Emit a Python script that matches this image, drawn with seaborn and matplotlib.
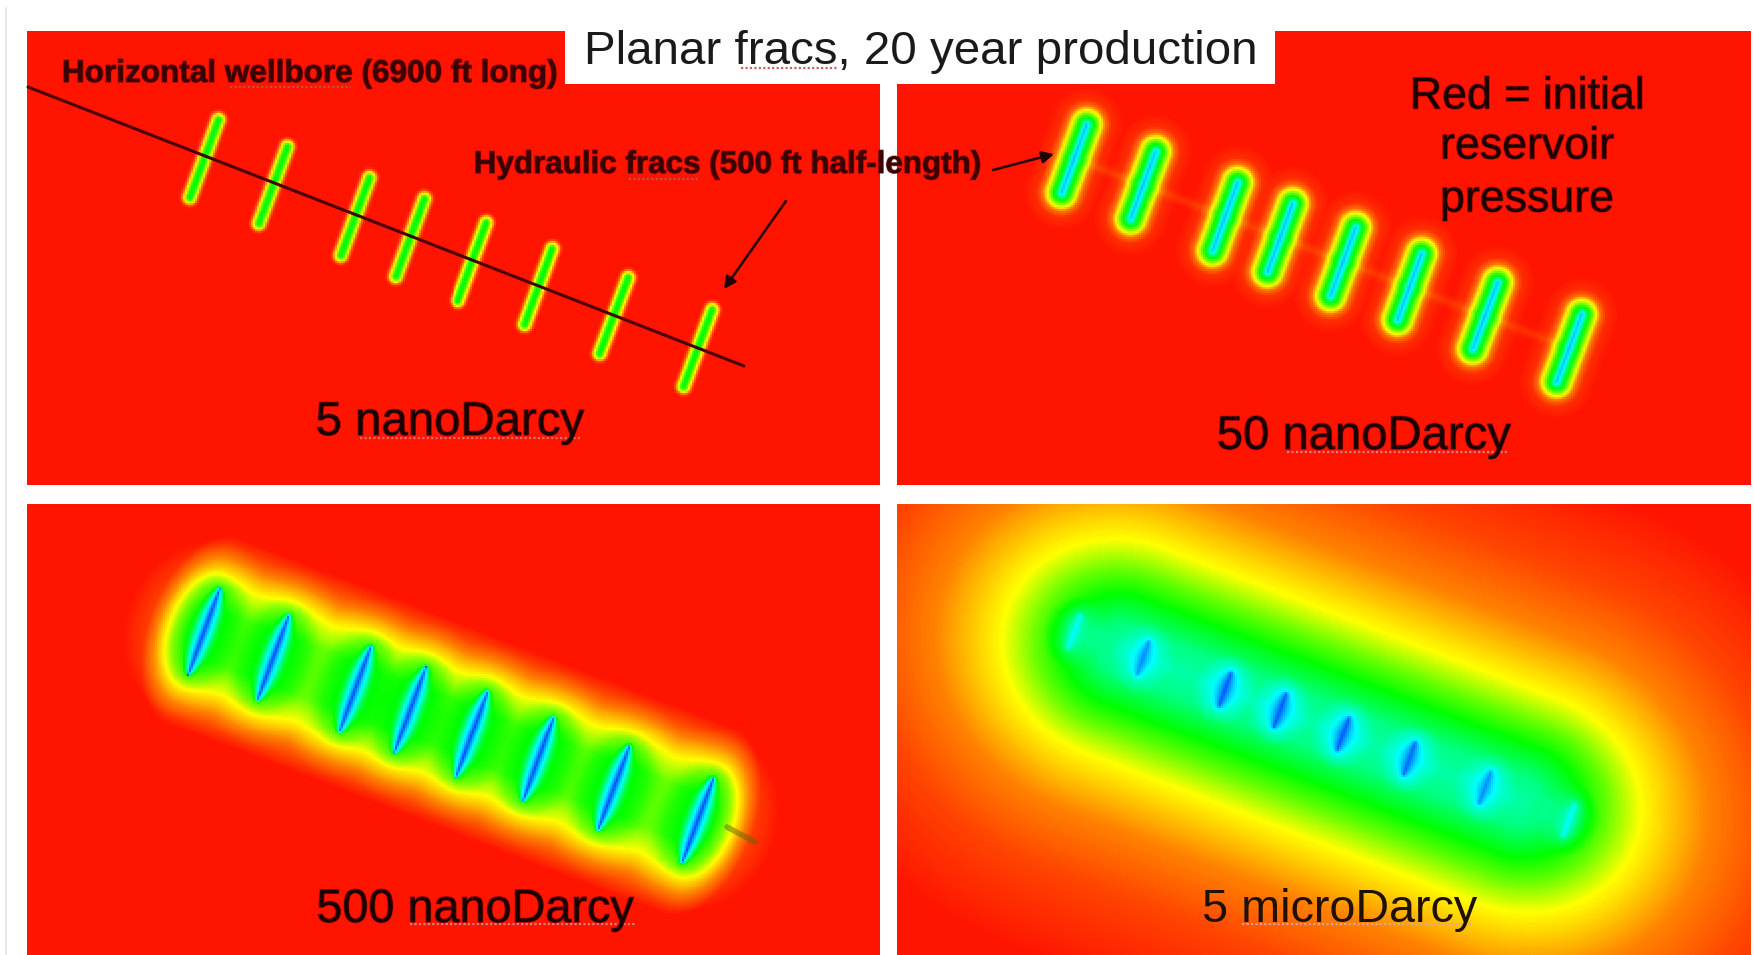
import numpy as np
import matplotlib
matplotlib.use("Agg")
import matplotlib.pyplot as plt
import matplotlib.patheffects as pe
from matplotlib.colors import LinearSegmentedColormap
from matplotlib.patches import Rectangle
import seaborn as sns

# ---- data (reference pixels) ----
frac_top_x = [220, 289, 371, 426, 489, 555, 631, 715]
frac_top_y = [115, 142, 173, 194, 218, 244, 273, 305]
frac_bot_x = [188, 257, 339, 394, 457, 524, 599, 683]
frac_bot_y = [202, 228, 260, 281, 305, 329, 358, 391]
wellbore_x = [28, 744]
wellbore_y = [87, 366]
wellbore_stub_x = [727, 755]
wellbore_stub_y = [827, 842]

panel_names = ["5 nanoDarcy", "50 nanoDarcy", "500 nanoDarcy", "5 microDarcy"]

# pressure (0 = drawn down, 1 = initial) against distance from a frac
nd5_dist = [0, 2, 3.5, 5.5, 7.5, 9.5, 11.5]
nd5_pres = [.40, .42, .49, .60, .78, .95, 1]
nd50_dist = [0, 2, 5, 9, 13, 15.5, 19, 25, 38]
nd50_pres = [.14, .20, .33, .44, .55, .65, .82, .95, 1]
nd500_dist = [0, 3, 7, 11, 15, 30, 45, 80]
nd500_pres = [.08, .25, .42, .62, .72, .78, .88, 1]
ud5_dist = [0, 3, 8, 16, 32]
ud5_pres = [.15, .35, .60, .82, 1]
# pressure against distance from the line through the fracs
nd50_band_dist = [0, 5, 8]
nd50_band_pres = [.94, .985, 1]
nd500_band_dist = [0, 25, 50, 70, 100]
nd500_band_pres = [.55, .55, .65, .78, 1]
ud5_band_dist = [0, 25, 50, 80, 110, 170, 230, 320]
ud5_band_pres = [.27, .30, .38, .48, .60, .78, .90, 1]
ud5_spot_depth = [.55, .75, .95, .95, .95, .90, .75, .55]

# ---- layout and style ----
W, H = 1754, 955
CELL = 2
PANELS = [
    dict(box=(27, 31, 880, 485), dist=nd5_dist, pres=nd5_pres, w=0, c=.4, trim=5, depth=None, over=1, short=0),
    dict(box=(897, 31, 1751, 485), dist=nd50_dist, pres=nd50_pres, w=0, c=1, trim=10, depth=None,
         band=(nd50_band_dist, nd50_band_pres), over=.4, short=0),
    dict(box=(27, 504, 880, 955), dist=nd500_dist, pres=nd500_pres, w=1, c=1, trim=0, depth=None,
         band=(nd500_band_dist, nd500_band_pres), over=1.8, short=0),
    dict(box=(897, 504, 1751, 955), dist=ud5_dist, pres=ud5_pres, w=1, c=.4, trim=0, depth=ud5_spot_depth,
         band=(ud5_band_dist, ud5_band_pres), over=.88, short=55),
]
cmap = LinearSegmentedColormap.from_list("pressure", [
    (0.0, (0, 30 / 255, 1)), (0.2, (0, 1, 1)), (0.4, (0, 1, 0)), (0.6, (1, 1, 0)),
    (0.78, (1, 130 / 255, 0)), (1.0, (1, 20 / 255, 0))])


def field(p):
    x0, y0, x1, y1 = p["box"]
    xs = (np.arange(0, x1 - x0, CELL) + CELL / 2)
    ys = (np.arange(0, y1 - y0, CELL) + CELL / 2)
    X, Y = np.meshgrid(xs, ys)
    ox, oy = 27, 31
    tx, ty = np.array(frac_top_x) - ox, np.array(frac_top_y) - oy
    bx, by = np.array(frac_bot_x) - ox, np.array(frac_bot_y) - oy
    cx, cy = (tx + bx) / 2, (ty + by) / 2
    D = np.zeros(X.shape)
    for i in range(len(tx)):
        hx, hy = (tx[i] - bx[i]) / 2, (ty[i] - by[i]) / 2
        L = np.hypot(hx, hy)
        ux, uy = hx / L, hy / L
        s = (X - cx[i]) * ux + (Y - cy[i]) * uy
        t = -(X - cx[i]) * uy + (Y - cy[i]) * ux
        cap = np.hypot(np.clip(np.abs(s) - (L - p["trim"]), 0, None), t)
        c = L * p["c"]
        a = (np.hypot(s - c, t) + np.hypot(s + c, t)) / 2
        b = np.sqrt(np.clip(a ** 2 - c ** 2, 0, None))
        m = (1 - p["w"]) * cap + p["w"] * b
        Di = 1 - np.interp(m, p["dist"], p["pres"])
        if p["depth"] is not None:
            Di = Di * p["depth"][i]
        D += Di ** 4
    P = 1 - np.clip(D ** .25, 0, 1)
    if "band" in p:
        sx, sy = cx[-1] - cx[0], cy[-1] - cy[0]
        L = np.hypot(sx, sy)
        ux, uy = sx / L, sy / L
        mx, my = (cx[0] + cx[-1]) / 2, (cy[0] + cy[-1]) / 2
        s = (X - mx) * ux + (Y - my) * uy
        t = -(X - mx) * uy + (Y - my) * ux
        d = np.hypot(np.clip(np.abs(s) - (L / 2 - p["short"]), 0, None) * p["over"], t)
        P = P * np.interp(d, p["band"][0], p["band"][1])
    return P


sns.set_theme(style="white")
plt.rcParams["font.family"] = ["Liberation Sans", "DejaVu Sans"]
fig = plt.figure(figsize=(W / 100, H / 100), dpi=100, facecolor="white")

for p in PANELS:
    x0, y0, x1, y1 = p["box"]
    ax = fig.add_axes([x0 / W, 1 - y1 / H, (x1 - x0) / W, (y1 - y0) / H])
    sns.heatmap(field(p), cmap=cmap, vmin=0, vmax=1, cbar=False, ax=ax,
                xticklabels=False, yticklabels=False)
    ax.set_xlabel("")
    ax.set_ylabel("")

ov = fig.add_axes([0, 0, 1, 1], facecolor="none")
ov.set_xlim(0, W)
ov.set_ylim(H, 0)
ov.axis("off")

ov.plot([6, 6], [8, 955], color="#e4e8ea", lw=1.5)
ov.add_patch(Rectangle((565, 20), 710, 64, facecolor="white", edgecolor="none"))

ov.plot(wellbore_x, wellbore_y, color="#4a0000", lw=2.2, solid_capstyle="round")
ov.plot(wellbore_stub_x, wellbore_stub_y, color="#5a6a00", lw=4, alpha=.5)

dark = "#1c0000"
soft = [pe.withStroke(linewidth=1.1, foreground="#5a0000", alpha=.55)]
ov.text(921, 52, "Planar fracs, 20 year production", fontsize=34.2, color="#1a1a1a", ha="center", va="center")
ov.text(310, 74, "Horizontal wellbore (6900 ft long)", fontsize=22.7, fontweight="bold", color="#3a0000",
        ha="center", va="center", path_effects=soft)
ov.text(728, 165, "Hydraulic fracs (500 ft half-length)", fontsize=22.6, fontweight="bold", color="#3a0000",
        ha="center", va="center", path_effects=soft)
for y, s in zip([97, 147, 200], ["Red = initial", "reservoir", "pressure"]):
    ov.text(1527, y, s, fontsize=32.2, color=dark, ha="center", va="center", path_effects=soft)
ov.text(450, 423, panel_names[0], fontsize=34.1, color=dark, ha="center", va="center", path_effects=soft)
ov.text(1364, 437, panel_names[1], fontsize=34, color=dark, ha="center", va="center", path_effects=soft)
ov.text(475, 910, panel_names[2], fontsize=33.7, color=dark, ha="center", va="center", path_effects=soft)
ov.text(1340, 910, panel_names[3], fontsize=33.7, color="#201000", ha="center", va="center")

arrow = dict(arrowstyle="-|>", color="#200000", lw=1.8, mutation_scale=18, shrinkA=0, shrinkB=0)
ov.annotate("", xy=(1054, 154), xytext=(993, 170), arrowprops=arrow)
ov.annotate("", xy=(724, 289), xytext=(786, 201), arrowprops=arrow)

for x, y, c in [((230, 351), 87, "#c05050"), ((629, 699), 179, "#c05050"), ((741, 837), 68, "#d06060"),
                ((360, 581), 438, "#e07070"), ((1287, 1509), 452, "#e08080"),
                ((410, 635), 924, "#e08080"), ((1242, 1471), 924, "#e8a0a0")]:
    ov.plot(x, [y, y], color=c, lw=1.6, ls=(0, (1, 1)))

fig.savefig("out.png", dpi=100, facecolor="white")
